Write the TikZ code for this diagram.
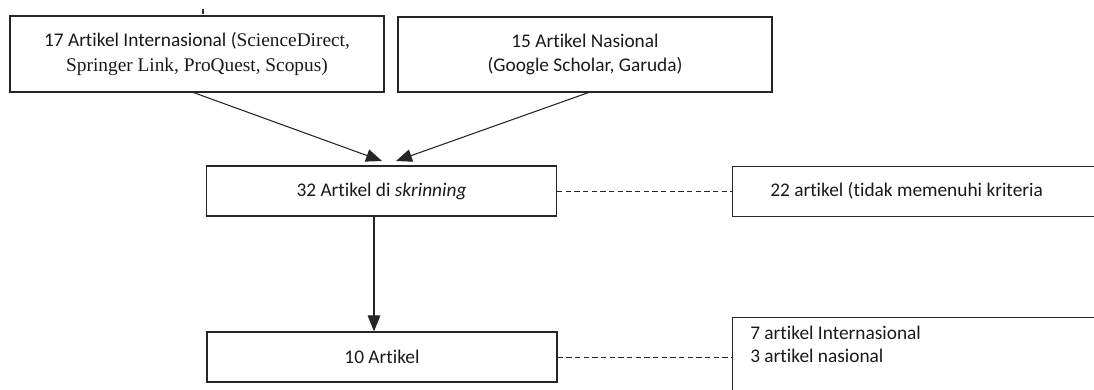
\documentclass[tikz,border=0pt]{standalone}
\usepackage{fontspec}
\setmainfont[Ligatures={NoCommon,NoRequired,NoContextual}]{Carlito}
\newfontfamily\timesfont{Liberation Serif}
\usetikzlibrary{arrows.meta}
\tikzset{
  box/.style={draw=black!85, line width=0.9pt, inner sep=0pt, text=black!90, align=center, font=\fontsize{14.5}{18.5}\selectfont},
  lbl/.style={inner sep=0pt, text=black!90, font=\fontsize{14.5}{17.25}\selectfont, align=left},
  arr/.style={draw=black!85, line width=0.8pt, -{Triangle[length=12pt,width=9.5pt]}},
  dashline/.style={line width=0.7pt, black!85, dash pattern=on 4pt off 2.5pt}
}
\begin{document}
\begin{tikzpicture}[x=0.75pt,y=-0.75pt]
\useasboundingbox (0,0) rectangle (1094,389);
\clip (0,0) rectangle (1094,389);
\node[box, minimum width=374*0.75pt, minimum height=76*0.75pt] (intl) at (197,54)
  {17 Artikel Internasional ({\timesfont ScienceDirect,}\\{\timesfont Springer Link, ProQuest, Scopus)}};
\node[box, minimum width=374*0.75pt, minimum height=75*0.75pt] (nas) at (585,54.5)
  {15 Artikel Nasional\\(Google Scholar, Garuda)};
\node[box, minimum width=350*0.75pt, minimum height=50*0.75pt] (skr) at (381.5,191)
  {32 Artikel di \textit{skrinning}};
\node[box, minimum width=350*0.75pt, minimum height=50*0.75pt] (ten) at (382,357)
  {10 Artikel};
\node[box, anchor=north west, minimum width=420*0.75pt, minimum height=50*0.75pt] (excl) at (732,166) {};
\node[lbl, anchor=west] (excltxt) at (770,191) {22 artikel (tidak memenuhi kriteria};
\node[box, anchor=north west, minimum width=420*0.75pt, minimum height=120*0.75pt] (res) at (732,317) {};
\node[lbl, anchor=north west] (restxt) at (750,326) {7 artikel Internasional\\3 artikel nasional};
\coordinate (tickA) at (203,9);
\coordinate (tickB) at (203,13.5);
\draw[line width=1.3pt, black!80] (tickA) -- (tickB);
\coordinate (a1s) at (192,92);
\coordinate (a1e) at (382,161);
\coordinate (a2s) at (590,92);
\coordinate (a2e) at (396,161);
\draw[arr] (a1s) -- (a1e);
\draw[arr] (a2s) -- (a2e);
\draw[arr] (skr.south -| 374,0) -- (ten.north -| 374,0);
\draw[dashline] (skr.east) -- (skr.east -| excl.west);
\draw[dashline] (ten.east) -- (ten.east -| res.west);
\end{tikzpicture}
\end{document}
